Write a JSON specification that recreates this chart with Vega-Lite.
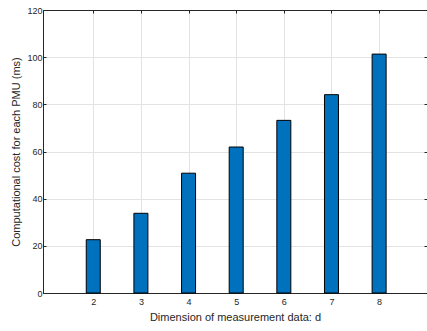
{
  "$schema": "https://vega.github.io/schema/vega-lite/v6.json",
  "width": 384,
  "height": 283,
  "autosize": "none",
  "padding": {"left": 43, "top": 10, "right": 0, "bottom": 38},
  "background": "white",
  "config": {
    "view": {"stroke": "#262626", "strokeWidth": 1},
    "font": "Liberation Sans",
    "axis": {
      "labelFont": "Liberation Sans",
      "titleFont": "Liberation Sans",
      "labelFontSize": 9,
      "titleFontSize": 11,
      "labelColor": "#262626",
      "titleColor": "#262626",
      "titleFontWeight": "normal",
      "domainColor": "#262626",
      "tickColor": "#262626",
      "gridColor": "#e3e3e3",
      "gridWidth": 1,
      "tickSize": -3
    }
  },
  "data": {"values": [
    {"d": 2, "cost": 22.6},
    {"d": 3, "cost": 33.8},
    {"d": 4, "cost": 50.8},
    {"d": 5, "cost": 61.9},
    {"d": 6, "cost": 73.2},
    {"d": 7, "cost": 84.1},
    {"d": 8, "cost": 101.3}
  ]},
  "layer": [
    {
      "mark": {"type": "bar", "fill": "#0072BD", "stroke": "#000000", "strokeWidth": 1, "size": 14},
      "encoding": {
        "x": {"field": "d", "type": "quantitative",
          "scale": {"domain": [1.05, 8.9], "nice": false, "zero": false},
          "axis": {"values": [2, 3, 4, 5, 6, 7, 8], "title": "Dimension of measurement data: d", "labelPadding": 7, "titlePadding": 5, "grid": true}},
        "y": {"field": "cost", "type": "quantitative",
          "scale": {"domain": [0, 120], "nice": false},
          "axis": {"values": [0, 20, 40, 60, 80, 100, 120], "title": "Computational cost for each PMU (ms)", "labelPadding": 4, "titlePadding": 5, "grid": true}}
      }
    },
    {
      "mark": {"type": "point", "opacity": 0},
      "encoding": {
        "x": {"field": "d", "type": "quantitative",
          "axis": {"orient": "top", "values": [2, 3, 4, 5, 6, 7, 8], "labels": false, "title": null, "grid": false}},
        "y": {"field": "cost", "type": "quantitative",
          "axis": {"orient": "right", "values": [0, 20, 40, 60, 80, 100, 120], "labels": false, "title": null, "grid": false}}
      }
    }
  ],
  "resolve": {"axis": {"x": "independent", "y": "independent"}}
}
